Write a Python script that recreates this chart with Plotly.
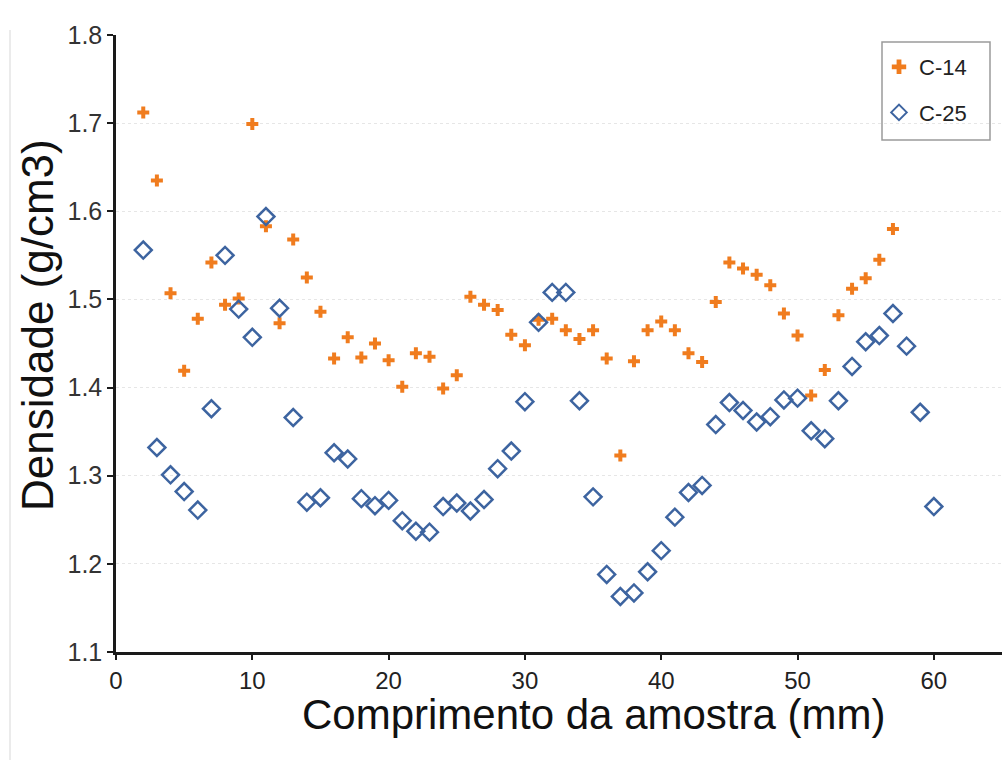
import plotly.graph_objects as go

# C-14 (orange crosses), positions in mm
x_c14 = list(range(2, 58))
y_c14 = [1.712, 1.635, 1.507, 1.419, 1.478, 1.542, 1.494, 1.501, 1.699, 1.583,
         1.473, 1.568, 1.525, 1.486, 1.433, 1.457, 1.434, 1.450, 1.431, 1.401,
         1.439, 1.435, 1.399, 1.414, 1.503, 1.494, 1.488, 1.460, 1.448, 1.477,
         1.478, 1.465, 1.455, 1.465, 1.433, 1.323, 1.430, 1.465, 1.475, 1.465,
         1.439, 1.429, 1.497, 1.542, 1.535, 1.528, 1.516, 1.484, 1.459, 1.391,
         1.420, 1.482, 1.512, 1.524, 1.545, 1.580]

# C-25 (blue open diamonds)
x_c25 = list(range(2, 61))
y_c25 = [1.556, 1.332, 1.301, 1.282, 1.261, 1.376, 1.550, 1.489, 1.457, 1.594,
         1.490, 1.366, 1.270, 1.275, 1.326, 1.319, 1.274, 1.266, 1.272, 1.249,
         1.237, 1.236, 1.265, 1.269, 1.260, 1.273, 1.308, 1.328, 1.384, 1.474,
         1.508, 1.508, 1.385, 1.276, 1.188, 1.163, 1.167, 1.191, 1.215, 1.253,
         1.281, 1.289, 1.358, 1.383, 1.374, 1.361, 1.367, 1.386, 1.388, 1.351,
         1.342, 1.385, 1.424, 1.452, 1.459, 1.484, 1.447, 1.372, 1.265]

x_ticks = [0, 10, 20, 30, 40, 50, 60]
y_ticks = [1.1, 1.2, 1.3, 1.4, 1.5, 1.6, 1.7, 1.8]

ORANGE = "#F07C1E"
BLUE = "#3D64A0"

# plot-area pixel geometry (for paper-coordinate placement of extras)
L, R, T, B = 116, 1002, 35, 652
W, H = R - L, B - T


def px(x):
    return (x - L) / W


def py(y):
    return (B - y) / H


fig = go.Figure()
fig.add_trace(go.Scatter(
    x=x_c14, y=y_c14, mode="markers", name="C-14", legendgroup="a",
    marker=dict(symbol="cross", size=10, color=ORANGE, line=dict(width=0)),
))
fig.add_trace(go.Scatter(
    x=x_c25, y=y_c25, mode="markers", name="C-25", legendgroup="b",
    marker=dict(symbol="diamond-open", size=13, color=BLUE, line=dict(width=2.5, color=BLUE)),
))

fig.update_layout(
    width=1006, height=760,
    margin=dict(l=L, r=1006 - R, t=T, b=760 - B),
    paper_bgcolor="white", plot_bgcolor="white",
    showlegend=True,
    legend=dict(
        x=px(879), y=py(46), xanchor="left", yanchor="top",
        borderwidth=0, bgcolor="rgba(0,0,0,0)",
        font=dict(family="Liberation Sans, Arial, sans-serif", size=22, color="#222"),
        tracegroupgap=14, itemwidth=30, itemsizing="constant",
    ),
    xaxis=dict(
        range=[0, 65], tickvals=x_ticks, ticktext=[str(v) for v in x_ticks],
        showgrid=False, zeroline=False,
        showline=True, linecolor="#1a1a1a", linewidth=2.5,
        ticks="outside", ticklen=5, tickwidth=2, tickcolor="#1a1a1a",
        tickfont=dict(family="Liberation Sans, Arial", size=24, color="#222"),
    ),
    yaxis=dict(
        range=[1.1, 1.8], tickvals=y_ticks, ticktext=[f"{v:.1f}" for v in y_ticks],
        showgrid=True, gridcolor="#e6e6e6", gridwidth=1, griddash="dot",
        zeroline=False,
        showline=True, linecolor="#1a1a1a", linewidth=2.5,
        ticks="outside", ticklen=6, tickwidth=2, tickcolor="#1a1a1a",
        tickfont=dict(family="Liberation Sans, Arial", size=25, color="#333"),
    ),
    annotations=[
        dict(text="Comprimento da amostra (mm)", xref="paper", yref="paper",
             x=px(593), y=py(714), xanchor="center", yanchor="middle",
             showarrow=False,
             font=dict(family="Liberation Sans, Arial", size=42, color="#111")),
        dict(text="Densidade (g/cm3)", xref="paper", yref="paper",
             x=px(37), y=py(325), xanchor="center", yanchor="middle",
             textangle=-90, showarrow=False,
             font=dict(family="Liberation Sans, Arial", size=44, color="#111")),
    ],
    shapes=[
        dict(type="line", xref="paper", yref="paper",
             x0=px(10), x1=px(10), y0=py(30), y1=py(760),
             line=dict(color="#e4e4e4", width=1.5)),
        dict(type="rect", xref="paper", yref="paper",
             x0=px(882), x1=px(990), y0=py(42), y1=py(140),
             line=dict(color="#9a9a9a", width=1.5), fillcolor="rgba(0,0,0,0)"),
    ],
)

fig.write_html("out.html")
